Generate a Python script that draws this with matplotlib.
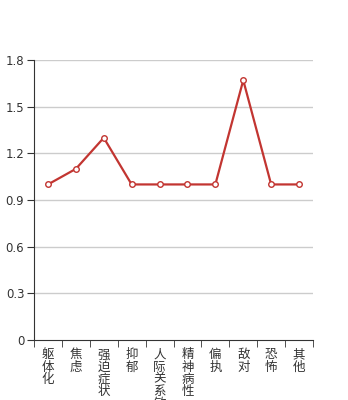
import numpy as np
import matplotlib.pyplot as plt

plt.rcParams['font.family'] = ['Noto Sans CJK SC', 'DejaVu Sans']

# 数据
categories = ['躯体化', '焦虑', '强迫症状', '抑郁', '人际关系敏感', '精神病性', '偏执', '敌对', '恐怖', '其他']
values = [1.0, 1.1, 1.3, 1.0, 1.0, 1.0, 1.0, 1.67, 1.0, 1.0]
yticks = [0, 0.3, 0.6, 0.9, 1.2, 1.5, 1.8]

fig = plt.figure(figsize=(3.48, 4.0), dpi=100)
ax = fig.add_axes([34/348, 60/400, 279/348, 280/400])

x = np.arange(len(categories))
ax.plot(x, values, color='#c23531', linewidth=1.6, marker='o', markersize=4,
        markerfacecolor='white', markeredgecolor='#c23531', markeredgewidth=1, zorder=3)

ax.set_xlim(-0.5, len(categories) - 0.5)
ax.set_ylim(0, 1.8)
ax.set_yticks(yticks)
ax.set_yticklabels([str(v) if v != 0 else '0' for v in yticks], fontsize=8.5, color='#333333',
                   family='DejaVu Sans')
for v in yticks[1:]:
    ax.axhline(v, color='#cccccc', linewidth=1, zorder=0)

# 类目刻度线在区间边界
ax.set_xticks(np.arange(-0.5, len(categories)), minor=True)
ax.set_xticks(x)
ax.set_xticklabels(['\n'.join(c) for c in categories], fontsize=9, color='#333333',
                   linespacing=0.92, va='top')
ax.tick_params(axis='x', which='major', length=0, pad=6)
ax.tick_params(axis='x', which='minor', length=5, color='#333333')
ax.tick_params(axis='y', length=5, color='#333333', pad=2)

ax.spines['top'].set_visible(False)
ax.spines['right'].set_visible(False)
ax.spines['left'].set_color('#333333')
ax.spines['bottom'].set_color('#333333')

plt.savefig('out.png', dpi=100)
